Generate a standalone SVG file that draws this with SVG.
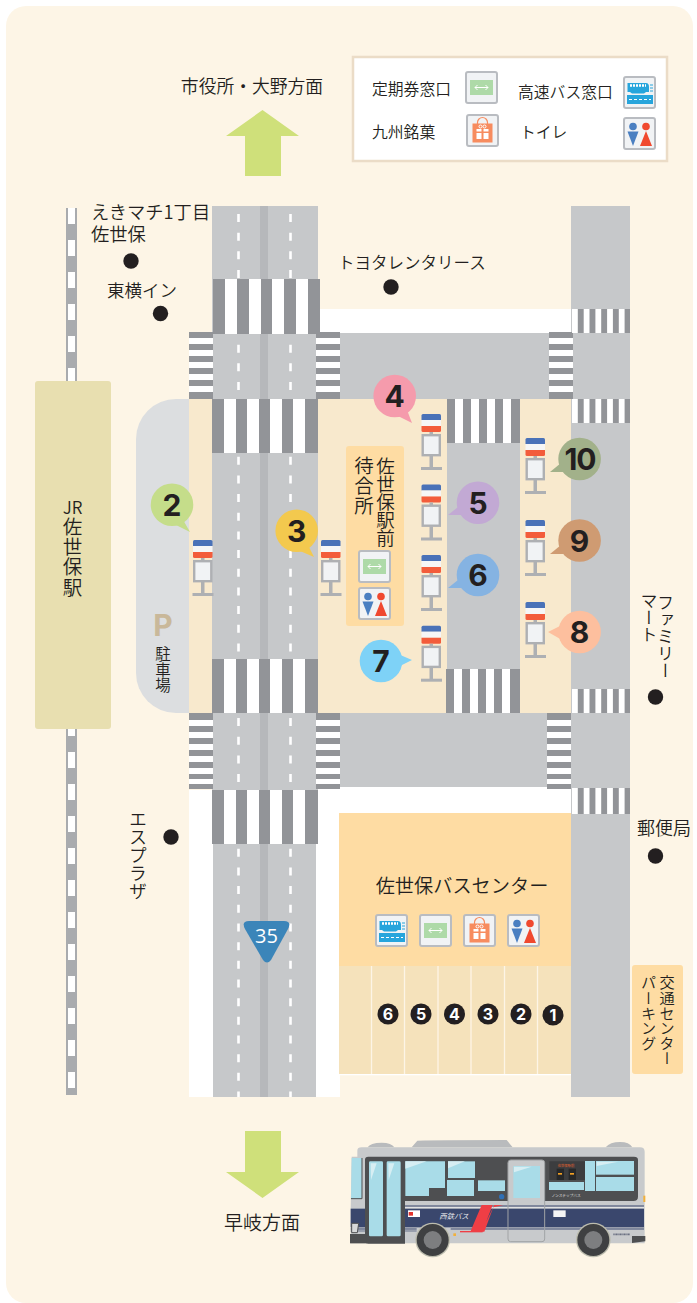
<svg xmlns="http://www.w3.org/2000/svg" width="697" height="1303" viewBox="0 0 697 1303">
<style>
.road{fill:#c6c8ca}.strip{fill:#b6b8bb}.cw{fill:#929498}.w{fill:#fff}.sand{fill:#f8e9cd}.orange{fill:#fedca3}
text{font-family:"Noto Sans CJK JP","Noto Sans",sans-serif;fill:#231f20;font-weight:350}
.v{writing-mode:vertical-rl}
.c{text-anchor:middle}
.d{font-family:Inter,"Open Sans",sans-serif;font-weight:700;font-size:30px;text-anchor:middle;fill:#231f20}
.n{font-family:Inter,"Open Sans",sans-serif;font-weight:700;font-size:16px;text-anchor:middle;fill:#fff}
.dot{fill:#231f20}
.dash{stroke:#fff;stroke-width:2.6;stroke-dasharray:8 10.67;fill:none}
.box{fill:#f1f3f5;stroke:#b9bcc1;stroke-width:2}
</style>
<defs>
<g id="stop">
<path d="M0 6V1.500Q0 0 1.500 0H18Q19.500 0 19.500 1.500V6Z" fill="#4a72b8"/><rect x="0" y="6" width="19.500" height="6" fill="#f6f6f6"/><path d="M0 12H19.500V16.500Q19.500 18 18 18H1.500Q0 18 0 16.500Z" fill="#f35c3b"/>
<rect x="8" y="18" width="3.500" height="3" fill="#aeb0b3"/>
<rect x="1.200" y="21.200" width="17.100" height="20" fill="#f1f3f5" stroke="#aeb0b3" stroke-width="2.400"/>
<rect x="8" y="42" width="3.500" height="12" fill="#aeb0b3"/>
<rect x="-0.500" y="53" width="21" height="3" fill="#aeb0b3"/>
</g>
<g id="i-pass"><rect x="1" y="1" width="31" height="31" rx="2" class="box"/><rect x="5" y="9" width="23" height="15" fill="#aedaa8"/><path d="M10 16.500H23M12.500 14L10 16.500L12.500 19M20.500 14L23 16.500L20.500 19" fill="none" stroke="#fff" stroke-width="1"/></g>
<g id="i-bus"><rect x="1" y="1" width="31" height="31" rx="2" class="box"/><rect x="4" y="19" width="26" height="9" fill="#27a5dc"/><path d="M6 23.500H28" stroke="#fff" stroke-width="1.200" stroke-dasharray="3 2"/><path d="M4.500 7H23Q26 7 26 11V16H23L21 17.500H9L7 16H4.500Z" fill="#27a5dc"/><path d="M7 9.500H23" stroke="#fff" stroke-width="2.500" stroke-dasharray="2 1"/><path d="M27 9H30M27 12H30M27 15H30" stroke="#27a5dc" stroke-width="1"/></g>
<g id="i-gift"><rect x="1" y="1" width="31" height="31" rx="2" class="box"/><path d="M11.500 10V8.500a5 5 0 0 1 10 0V10" fill="none" stroke="#f78c5f" stroke-width="1.200"/><rect x="6.500" y="9.500" width="20" height="19" fill="#f78c5f"/><rect x="10.500" y="15" width="12" height="10" fill="#fff"/><rect x="15.500" y="15" width="2" height="10" fill="#f78c5f"/><rect x="10" y="17.500" width="13" height="1.500" fill="#f78c5f"/><circle cx="14.500" cy="12.500" r="1.500" fill="none" stroke="#fff"/><circle cx="18.500" cy="12.500" r="1.500" fill="none" stroke="#fff"/></g>
<g id="i-wc"><rect x="1" y="1" width="31" height="31" rx="2" class="box"/><circle cx="10" cy="9.500" r="3.800" fill="#4a7fc1"/><path d="M4.500 14.500H15.500L10 29Z" fill="#4a7fc1"/><circle cx="23" cy="9.500" r="3.800" fill="#f0492f"/><path d="M23 14L29 29H17Z" fill="#f0492f"/></g>
</defs>

<rect width="697" height="1303" fill="#fff"/>
<rect x="6" y="6" width="687" height="1297" rx="20" fill="#fdf5e6"/>

<g id="rail"><rect x="66" y="208" width="11" height="887" fill="#a9abae"/><path d="M71.500 208V1095" stroke="#fff" stroke-width="7" stroke-dasharray="16 16" fill="none"/></g>
<g id="jr-station"><rect x="35" y="381" width="76" height="348" rx="3" fill="#e8dfb0"/>
<text x="72.500" y="514" font-size="17" class="c">JR<tspan x="72.500 72.500 72.500 72.500" y="534 554 574 595" font-size="19.500">佐世保駅</tspan></text></g>

<g id="ground">
<rect x="189" y="790" width="24" height="307" class="w"/><rect x="316" y="787" width="24" height="310" class="w"/>
<rect x="340" y="787" width="231" height="27" class="w"/><rect x="318" y="309" width="254" height="25" class="w"/>
<rect x="136" y="399" width="93" height="314" rx="40" fill="#dcdee0"/>
<rect x="189" y="399" width="383" height="314" class="sand"/>
</g>

<g id="roads">
<rect x="212" y="206" width="106" height="638" class="road"/>
<rect x="213" y="844" width="103" height="253" class="road"/>
<rect x="189" y="333" width="383" height="66" class="road"/>
<rect x="189" y="713" width="383" height="74" class="road"/>
<rect x="571" y="206" width="59" height="891" class="road"/>
<rect x="447" y="399" width="73" height="314" class="road"/>
<rect x="260" y="206" width="8" height="891" class="strip"/>
<path d="M238.500 214V1097M290.500 214V1097" class="dash"/>
</g>

<g id="crosswalks">
<g id="cw-main">
<rect x="213" y="279" width="107" height="55" class="cw"/><path d="M225 279h12v55h-12zM249 279h12v55h-12zM272 279h12v55h-12zM296 279h12v55h-12z" class="w"/>
<rect x="212" y="399" width="106" height="54" class="cw"/><path d="M224 399h12v54h-12zM247 399h12v54h-12zM270 399h12v54h-12zM293 399h12v54h-12z" class="w"/>
<rect x="212" y="659" width="106" height="54" class="cw"/><path d="M224 659h12v54h-12zM247 659h12v54h-12zM270 659h12v54h-12zM293 659h12v54h-12z" class="w"/>
<rect x="212" y="790" width="106" height="54" class="cw"/><path d="M224 790h12v54h-12zM247 790h12v54h-12zM270 790h12v54h-12zM293 790h12v54h-12z" class="w"/>
</g>
<g id="cw-side">
<rect x="189" y="332" width="24" height="67" class="cw"/><path d="M189 338h24v6h-24zM189 350h24v6h-24zM189 362h24v6h-24zM189 374h24v6h-24zM189 386h24v6h-24z" class="w"/>
<rect x="316" y="332" width="24" height="67" class="cw"/><path d="M316 338h24v6h-24zM316 350h24v6h-24zM316 362h24v6h-24zM316 374h24v6h-24zM316 386h24v6h-24z" class="w"/>
<rect x="549" y="332" width="24" height="67" class="cw"/><path d="M549 338h24v6h-24zM549 350h24v6h-24zM549 362h24v6h-24zM549 374h24v6h-24zM549 386h24v6h-24z" class="w"/>
<rect x="189" y="713" width="24" height="76" class="cw"/><path d="M189 720h24v6h-24zM189 732h24v6h-24zM189 744h24v6h-24zM189 756h24v6h-24zM189 768h24v6h-24zM189 779h24v5h-24z" class="w"/>
<rect x="316" y="713" width="24" height="76" class="cw"/><path d="M316 720h24v6h-24zM316 732h24v6h-24zM316 744h24v6h-24zM316 756h24v6h-24zM316 768h24v6h-24zM316 779h24v5h-24z" class="w"/>
<rect x="547" y="713" width="24" height="76" class="cw"/><path d="M547 720h24v6h-24zM547 732h24v6h-24zM547 744h24v6h-24zM547 756h24v6h-24zM547 768h24v6h-24zM547 779h24v5h-24z" class="w"/>
</g>
<g id="cw-right">
<rect x="572" y="309" width="58" height="24" class="cw"/><path d="M572 309h5.800v24h-5.800zM583.700 309h5.800v24h-5.800zM595.400 309h5.800v24h-5.800zM607.100 309h5.800v24h-5.800zM618.800 309h5.800v24h-5.800z" class="w"/>
<rect x="572" y="399" width="58" height="24" class="cw"/><path d="M572 399h5.800v24h-5.800zM583.700 399h5.800v24h-5.800zM595.400 399h5.800v24h-5.800zM607.100 399h5.800v24h-5.800zM618.800 399h5.800v24h-5.800z" class="w"/>
<rect x="572" y="689" width="58" height="24" class="cw"/><path d="M572 689h5.800v24h-5.800zM583.700 689h5.800v24h-5.800zM595.400 689h5.800v24h-5.800zM607.100 689h5.800v24h-5.800zM618.800 689h5.800v24h-5.800z" class="w"/>
<rect x="572" y="788" width="58" height="26" class="cw"/><path d="M572 788h5.800v26h-5.800zM583.700 788h5.800v26h-5.800zM595.400 788h5.800v26h-5.800zM607.100 788h5.800v26h-5.800zM618.800 788h5.800v26h-5.800z" class="w"/>
</g>
<g id="cw-mid">
<rect x="447" y="399" width="73" height="44" class="cw"/><path d="M455 399h8v44h-8zM471 399h8v44h-8zM487 399h8v44h-8zM503 399h8v44h-8z" class="w"/>
<rect x="446" y="669" width="74" height="44" class="cw"/><path d="M454 669h8v44h-8zM470 669h8v44h-8zM486 669h8v44h-8zM502 669h8v44h-8z" class="w"/>
</g>
</g>

<g id="parking-label">
<text x="163" y="636" font-size="30" class="c" style="font-family:Inter,sans-serif;font-weight:700;fill:#c9b89a">P</text>
<text x="163 163 163" y="660 676 691" font-size="15.500" class="c">駐車場</text>
</g>

<g id="waiting-room"><rect x="346" y="446" width="58" height="180" rx="3" class="orange"/>
<text x="385.500 385.500 385.500 385.500 385.500" y="473 491 509 527 545" font-size="18.500" class="c">佐世保駅前</text>
<text x="364 364 364" y="473 493 513" font-size="19.500" class="c">待合所</text>
<use href="#i-pass" x="358" y="550"/><use href="#i-wc" x="358" y="587"/></g>

<g id="bus-center"><rect x="339" y="813" width="232" height="153" class="orange"/>
<text x="462" y="893" font-size="19.200" class="c">佐世保バスセンター</text>
<use href="#i-bus" x="375" y="914"/><use href="#i-pass" x="419" y="914"/><use href="#i-gift" x="463" y="914"/><use href="#i-wc" x="507" y="914"/></g>

<g id="bays">
<rect x="339" y="966" width="232" height="108" fill="#f5e2bb"/>
<path d="M371.500 966V1074M404.500 966V1074M438 966V1074M471 966V1074M504.500 966V1074M537.500 966V1074" stroke="#fdf5e6" stroke-width="1.300"/>
<rect x="339" y="1074" width="232" height="1.300" fill="#fff"/>
<g id="bay-6"><circle cx="388" cy="1014" r="10.500" class="dot"/><text x="388" y="1020" class="n">6</text></g>
<g id="bay-5"><circle cx="421" cy="1014" r="10.500" class="dot"/><text x="421" y="1020" class="n">5</text></g>
<g id="bay-4"><circle cx="454.500" cy="1014" r="10.500" class="dot"/><text x="454.500" y="1020" class="n">4</text></g>
<g id="bay-3"><circle cx="488" cy="1014" r="10.500" class="dot"/><text x="488" y="1020" class="n">3</text></g>
<g id="bay-2"><circle cx="521" cy="1014" r="10.500" class="dot"/><text x="521" y="1020" class="n">2</text></g>
<g id="bay-1"><circle cx="553" cy="1015" r="10.500" class="dot"/><text x="553" y="1021" class="n">1</text></g>
</g>

<g id="stops">
<use href="#stop" x="421.500" y="414"/><use href="#stop" x="421.500" y="484.500"/><use href="#stop" x="421.500" y="555"/><use href="#stop" x="421.500" y="625.700"/>
<use href="#stop" x="525.500" y="438"/><use href="#stop" x="525.500" y="520"/><use href="#stop" x="525.500" y="602"/>
<use href="#stop" x="193" y="540"/><use href="#stop" x="321" y="540"/>
</g>

<g id="bubbles">
<g id="b2"><path d="M182 518L190 532L176 525Z" fill="#c5dd8a"/><circle cx="172" cy="504.700" r="21.300" fill="#c5dd8a"/><text x="172" y="515.500" class="d">2</text></g>
<g id="b3"><path d="M308 545L314 557L300 551Z" fill="#f3c94e"/><circle cx="296.700" cy="530.700" r="21.300" fill="#f3c94e"/><text x="296.700" y="541.500" class="d">3</text></g>
<g id="b4"><path d="M407 410L412 423L398 416Z" fill="#f59bac"/><circle cx="394.700" cy="396" r="21.300" fill="#f59bac"/><text x="394.700" y="407" class="d">4</text></g>
<g id="b5"><path d="M458 507L448 515L464 515Z" fill="#c2a9d4"/><circle cx="478" cy="502.700" r="21.300" fill="#c2a9d4"/><text x="478" y="513.500" class="d">5</text></g>
<g id="b6"><path d="M458 580L448 588L464 588Z" fill="#85b3e2"/><circle cx="478" cy="575" r="21.300" fill="#85b3e2"/><text x="478" y="586" class="d">6</text></g>
<g id="b7"><path d="M398 654L412 660L398 667Z" fill="#7ed2f7"/><circle cx="381" cy="661" r="21.300" fill="#7ed2f7"/><text x="381" y="672" class="d">7</text></g>
<g id="b8"><path d="M562 625L548 632L562 640Z" fill="#fdbf9e"/><circle cx="579.600" cy="632" r="21.300" fill="#fdbf9e"/><text x="579.600" y="643" class="d">8</text></g>
<g id="b9"><path d="M561 545L550 554L566 554Z" fill="#cf9b72"/><circle cx="579.600" cy="540.500" r="21.300" fill="#cf9b72"/><text x="579.600" y="551.500" class="d">9</text></g>
<g id="b10"><path d="M561 463L550 472L566 472Z" fill="#a2b18a"/><circle cx="579.600" cy="459" r="21.300" fill="#a2b18a"/><text x="580" y="470" class="d" style="letter-spacing:-1px">10</text></g>
</g>

<g id="route-35"><path d="M249 921H284Q292 921 288 929L271 960Q267 965 263 960L245 929Q241 921 249 921Z" fill="#3b85b9"/><text x="266.500" y="943" font-size="20" class="c" style="fill:#fff;font-family:'Open Sans',sans-serif;font-weight:400">35</text></g>

<g id="landmarks">
<text x="91" y="219" font-size="18.300">えきマチ1丁目<tspan x="91" y="241">佐世保</tspan></text><circle cx="131" cy="261" r="7.700" class="dot"/>
<text x="107" y="297" font-size="17.500">東横イン</text><circle cx="160.500" cy="313.500" r="7.700" class="dot"/>
<text x="338" y="269" font-size="16.500">トヨタレンタリース</text><circle cx="391" cy="287" r="7.700" class="dot"/>
<text x="665.500" y="594" font-size="17" class="v">ファミリー</text><text x="649" y="592" font-size="17" class="v">マート</text><circle cx="655.500" cy="697" r="7.700" class="dot"/>
<text x="664" y="835" font-size="18" class="c">郵便局</text><circle cx="655.500" cy="856" r="7.700" class="dot"/>
<text x="138" y="810" font-size="18" class="v">エスプラザ</text><circle cx="171" cy="837" r="7.700" class="dot"/>
</g>

<g id="parking-center"><rect x="632" y="965" width="51" height="109" rx="3" class="orange"/>
<text x="667" y="975" font-size="15.200" class="v">交通センター</text><text x="648.500" y="975" font-size="15.200" class="v">パーキング</text></g>

<g id="directions">
<path d="M262.500 110L299 136H281V176H245V136H226Z" fill="#cfe07a"/><text x="252" y="93" font-size="17.800" class="c">市役所・大野方面</text>
<path d="M245 1131H281V1172H299L262.500 1198L226 1172H245Z" fill="#cfe07a"/><text x="262" y="1230" font-size="19" class="c">早岐方面</text>
</g>

<g id="legend"><rect x="353" y="57" width="314" height="104" fill="#fff" stroke="#ebdcc7" stroke-width="2.500"/>
<text x="372" y="95" font-size="15.800">定期券窓口</text><use href="#i-pass" x="465" y="71"/>
<text x="518" y="98" font-size="15.800">高速バス窓口</text><use href="#i-bus" x="623" y="76"/>
<text x="372" y="138" font-size="15.800">九州銘菓</text><use href="#i-gift" x="466" y="114"/>
<text x="520" y="138" font-size="15.800">トイレ</text><use href="#i-wc" x="623" y="117"/></g>

<g id="bus" transform="translate(340 1130) scale(.33333)">
<path d="M83 52Q90 38 125 38Q155 38 163 52ZM215 52L232 32Q240 30 500 30L518 52ZM797 52Q810 36 840 36Q868 36 877 52Z" fill="#b9bbbd"/>
<path d="M52 80V62Q52 52 65 52H900Q914 52 914 65V340H200L32 340V240L35 80Z" fill="#c8cacc"/>
<rect x="32" y="236" width="880" height="56" fill="#3a476d"/>
<path d="M195 228H912" stroke="#3a476d" stroke-width="3"/>
<path d="M32 297H230M332 297H912" stroke="#3a476d" stroke-width="3"/><path d="M32 303H230" stroke="#3a476d" stroke-width="2"/>
<path d="M75 90Q75 80 85 80H882Q894 80 894 90V200Q894 213 880 213H195V341H85Q75 341 75 332Z" fill="#4e4f51"/>
<path d="M195 233H912" stroke="#f4f4f4" stroke-width="2"/>
<rect x="30" y="312" width="50" height="28" fill="#4e4f51"/>
<path d="M35 84H62Q66 84 66 88V200Q66 206 60 206H33Z" fill="#a9dce8"/><path d="M66 84V206H33" fill="none" stroke="#4e4f51" stroke-width="3"/>
<path d="M35 280H56L52 308H35Z" fill="#d7d8d9" stroke="#4e4f51" stroke-width="3"/>
<rect x="87" y="94" width="42" height="225" rx="4" fill="#a9dce8"/><rect x="140" y="94" width="42" height="225" rx="4" fill="#a9dce8"/>
<path d="M92 100H110L93 150ZM145 100H163L146 150Z" fill="#d7eef3"/>
<path d="M196 94H315V174H267V198H196Z" fill="#a9dce8"/><path d="M196 94H260L196 116Z" fill="#d7eef3"/>
<rect x="324" y="94" width="81" height="50" fill="#a9dce8"/><path d="M324 94H375L324 115Z" fill="#d7eef3"/>
<rect x="321" y="150" width="81" height="48" fill="#a9dce8"/><rect x="414" y="151" width="81" height="32" fill="#a9dce8"/>
<path d="M504 215V100Q504 90 514 90H604Q614 90 614 100V215Z" fill="#c8cacc"/>
<rect x="504" y="90" width="110" height="245" rx="8" fill="none" stroke="#a2a4a6" stroke-width="3"/>
<rect x="520" y="108" width="80" height="96" fill="#a9dce8"/><path d="M522 110H575L522 127Z" fill="#d7eef3"/>
<circle cx="485" cy="200" r="8" fill="#2f6fb5"/>
<path d="M628 94H735V150H628Z" fill="#3c3d3f"/><rect x="650" y="116" width="22" height="34" fill="#272829"/><rect x="686" y="116" width="22" height="34" fill="#272829"/><rect x="654" y="129" width="12" height="5" fill="#f2a024"/><rect x="690" y="129" width="12" height="5" fill="#f2a024"/>
<text x="678" y="111" font-size="10" class="c" style="fill:#e8622c">佐世保駅前</text>
<rect x="627" y="156" width="105" height="24" fill="#a9dce8"/><rect x="735" y="93" width="30" height="90" fill="#a9dce8"/>
<rect x="768" y="93" width="114" height="41" fill="#a9dce8"/><path d="M770 95H835L770 108Z" fill="#d7eef3"/><rect x="768" y="141" width="114" height="42" fill="#a9dce8"/>
<text x="678" y="202" font-size="11" class="c" style="fill:#e8e8e8">ノンステップバス</text>
<text x="342" y="268" font-size="22" class="c" style="fill:#f4f4f4;font-style:italic">西鉄バス</text>
<path d="M425 225H458L427 305H391ZM463 225H490L460 232L433 305H424Z" fill="#ef3e45"/><rect x="360" y="303" width="68" height="4" fill="#ef3e45"/>
<rect x="204" y="241" width="36" height="20" fill="#fff"/><rect x="206" y="246" width="13" height="11" fill="#e2342f"/>
<rect x="640" y="241" width="37" height="20" fill="#f4f4f4"/>
<rect x="910" y="197" width="6" height="19" fill="#f2b03b"/><rect x="340" y="310" width="8" height="8" fill="#f2b03b"/>
<path d="M876 318H916V334L876 339Z" fill="#4e4f51"/>
<path d="M820 313H870" stroke="#6b7082" stroke-width="5" stroke-dasharray="3 1"/>
<circle cx="278" cy="330" r="52" fill="#bcbcae"/><circle cx="278" cy="330" r="48" fill="#3f4042"/><circle cx="278" cy="330" r="27" fill="#7d7e80"/>
<circle cx="760" cy="330" r="52" fill="#bcbcae"/><circle cx="760" cy="330" r="48" fill="#3f4042"/><circle cx="760" cy="330" r="27" fill="#7d7e80"/>
</g>
</svg>
